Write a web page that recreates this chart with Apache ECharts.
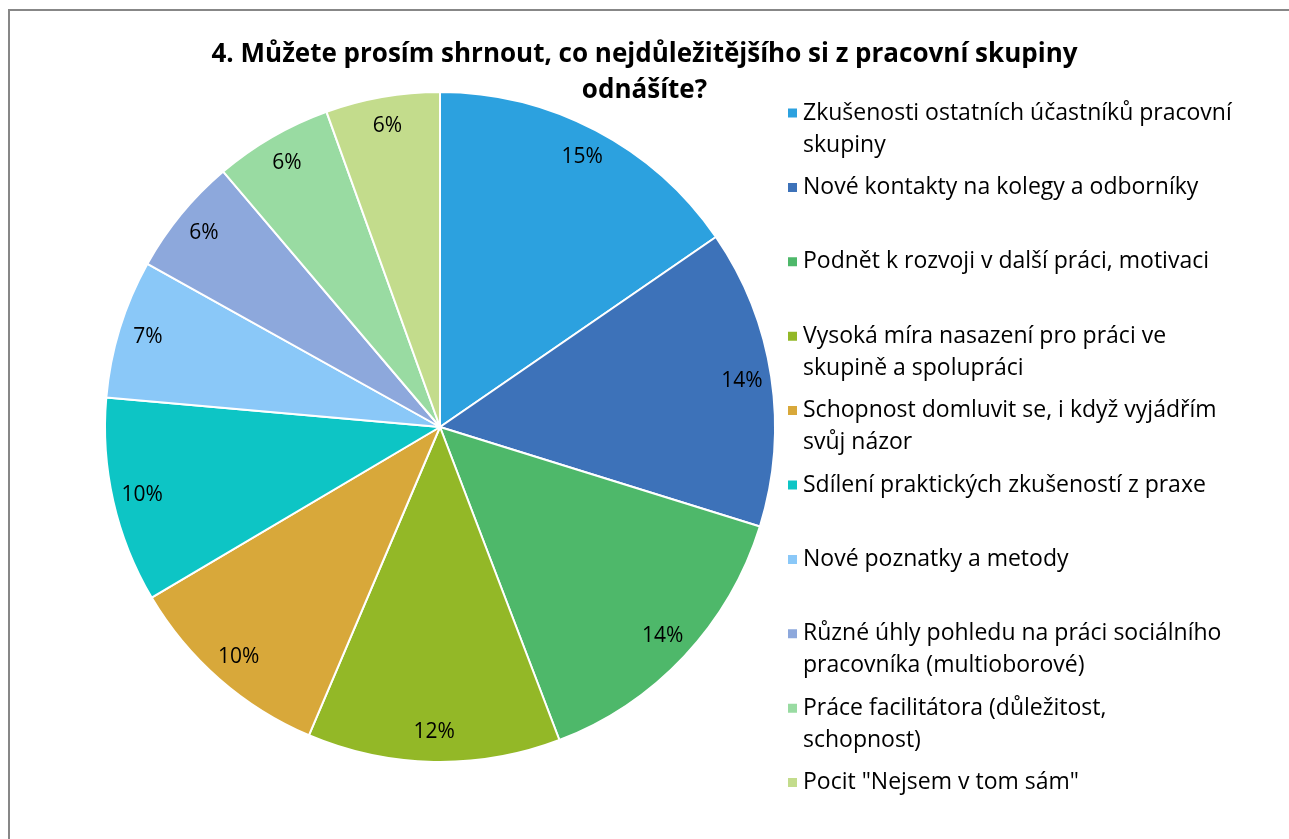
<!DOCTYPE html>
<html>
<head>
<meta charset="utf-8">
<script src="https://cdn.jsdelivr.net/npm/echarts@6/dist/echarts.min.js"></script>
<style>
  html, body { margin: 0; padding: 0; background: #fff; overflow: hidden; }
  #frame { position: absolute; left: 8px; top: 9px; width: 2000px; height: 2000px; border: 2px solid #878787; }
  #chart { position: absolute; left: 0; top: 0; width: 1289px; height: 839px; }
</style>
</head>
<body>
<div id="frame"></div>
<div id="chart"></div>
<script>
// odpovědi a jejich podíly (v %)
var categories = [
    'Zkušenosti ostatních účastníků pracovní skupiny',
    'Nové kontakty na kolegy a odborníky',
    'Podnět k rozvoji v další práci, motivaci',
    'Vysoká míra nasazení pro práci ve skupině a spolupráci',
    'Schopnost domluvit se, i když vyjádřím svůj názor',
    'Sdílení praktických zkušeností z praxe',
    'Nové poznatky a metody',
    'Různé úhly pohledu na práci sociálního pracovníka (multioborové)',
    'Práce facilitátora (důležitost, schopnost)',
    'Pocit "Nejsem v tom sám"'
];
var legendLabels = [
    'Zkušenosti ostatních účastníků pracovní\nskupiny',
    'Nové kontakty na kolegy a odborníky',
    'Podnět k rozvoji v další práci, motivaci',
    'Vysoká míra nasazení pro práci ve\nskupině a spolupráci',
    'Schopnost domluvit se, i když vyjádřím\nsvůj názor',
    'Sdílení praktických zkušeností z praxe',
    'Nové poznatky a metody',
    'Různé úhly pohledu na práci sociálního\npracovníka (multioborové)',
    'Práce facilitátora (důležitost,\nschopnost)',
    'Pocit "Nejsem v tom sám"'
];
var values = [15.4, 14.4, 14.4, 12.2, 10.1, 9.9, 6.7, 5.7, 5.7, 5.5];
var colors = ['#2ca1df', '#3d72b9', '#4eb86a', '#93b827', '#d8a83a', '#0dc5c5', '#8ac8f8', '#8da8dc', '#99dba2', '#c3dc8c'];

var fontName = '"Open Sans", "Noto Sans", sans-serif';

var myChart = echarts.init(document.getElementById('chart'));

var pieData = [];
for (var i = 0; i < categories.length; i++) {
    pieData.push({name: categories[i], value: values[i], itemStyle: {color: colors[i]}});
}

// legenda po jedné položce, aby čtvereček seděl u prvního řádku
// (dvouřádkové popisky dostanou prázdný řádek navrch, text se centruje na čtvereček)
var legends = [];
for (var j = 0; j < categories.length; j++) {
    var twoLines = legendLabels[j].indexOf('\n') >= 0;
    var lineCenter = 113 + j * 74.4;
    legends.push({
        orient: 'vertical',
        left: 786,
        top: twoLines ? lineCenter - 48 : lineCenter - 16,
        padding: 0,
        itemWidth: 11,
        itemHeight: 11,
        itemGap: 0,
        icon: 'rect',
        selectedMode: false,
        data: [{name: categories[j], itemStyle: {color: colors[j]}}],
        formatter: (function (label) { return function () { return label; }; })(twoLines ? '\n' + legendLabels[j] : legendLabels[j]),
        textStyle: {
            fontFamily: fontName,
            fontSize: 23,
            lineHeight: 32,
            color: '#000'
        }
    });
}

var option = {
    animation: false,
    title: {
        text: '4. Můžete prosím shrnout, co nejdůležitějšího si z pracovní skupiny\nodnášíte?',
        left: 'center',
        top: 37,
        padding: [0, 0, 0, 18],
        textStyle: {
            fontFamily: fontName,
            fontWeight: 'bold',
            fontSize: 26,
            lineHeight: 36,
            color: '#000'
        }
    },
    legend: legends,
    series: [
        {
            type: 'pie',
            center: [440, 427],
            radius: [0, 335],
            startAngle: 90,
            clockwise: true,
            data: pieData,
            label: {show: false},
            labelLine: {show: false},
            itemStyle: {borderColor: '#fff', borderWidth: 2}
        },
        {
            // průhledný prstenec jen pro popisky procent
            type: 'pie',
            center: [440, 427],
            radius: [270, 335],
            startAngle: 90,
            clockwise: true,
            silent: true,
            data: pieData.map(function (d) { return {name: d.name, value: d.value}; }),
            itemStyle: {color: 'rgba(0,0,0,0)', borderWidth: 0},
            labelLine: {show: false},
            label: {
                show: true,
                position: 'inside',
                fontFamily: fontName,
                fontSize: 21,
                color: '#000',
                formatter: function (p) { return Math.round(p.percent) + '%'; }
            }
        }
    ]
};
myChart.setOption(option, true);
</script>
</body>
</html>
